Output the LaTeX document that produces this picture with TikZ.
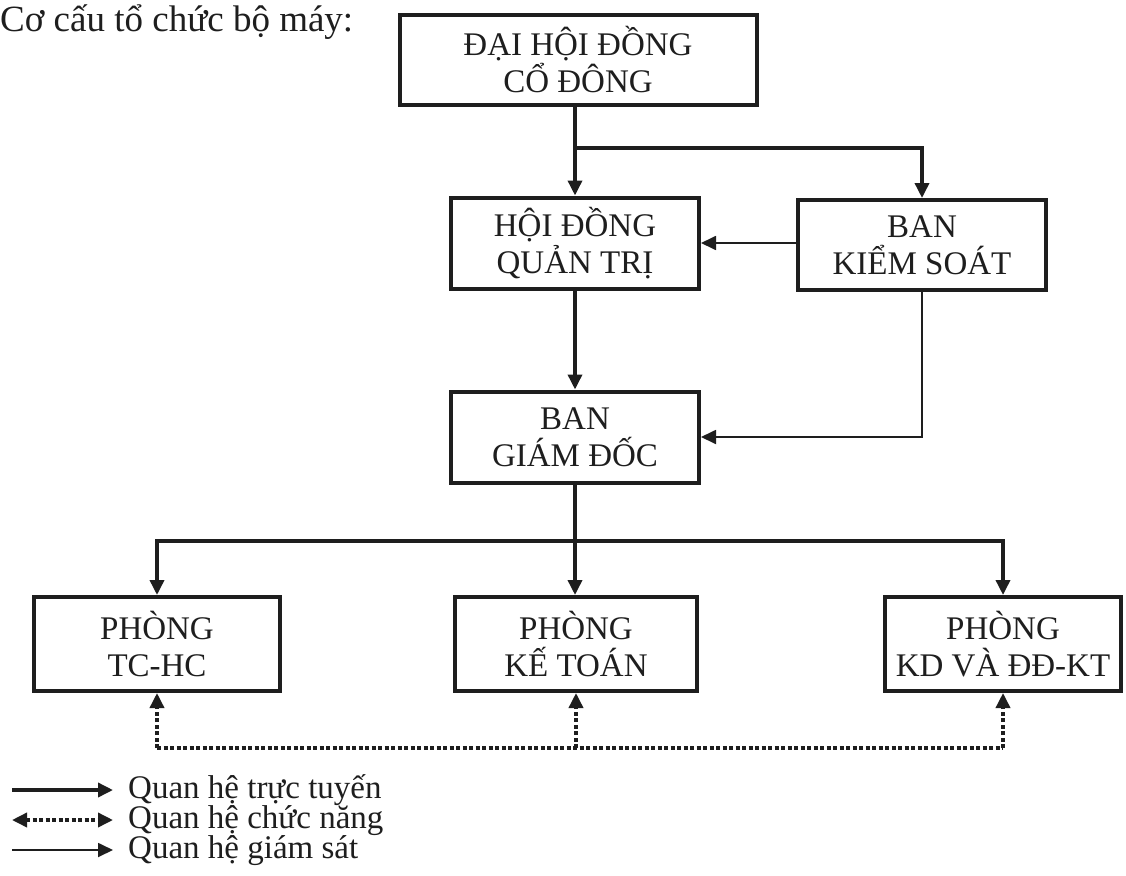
\documentclass[tikz,border=0pt]{standalone}
\usepackage{fontspec}
\setmainfont{Liberation Serif}
\usetikzlibrary{arrows.meta}
\definecolor{ink}{RGB}{30,30,30}
\newcommand{\boxfont}{\fontsize{33}{37}\selectfont}
\begin{document}
\begin{tikzpicture}[x=1pt,y=-1pt,
  box/.style={draw=ink, line width=4pt, align=center, font=\boxfont, text=ink, inner sep=0pt},
  strong/.style={draw=ink, line width=3.5pt, -{Triangle[length=15pt,width=14pt]}},
  weak/.style={draw=ink, line width=1.8pt, -{Triangle[length=15pt,width=14pt]}},
  func/.style={draw=ink, line width=3.5pt, dash pattern=on 4pt off 2.5pt},
  funcarrow/.style={func, -{Triangle[length=15pt,width=14pt]}},
  legtext/.style={anchor=base west, font=\fontsize{33}{36}\selectfont, text=ink, inner sep=0pt}
]
\fill[white] (0,0) rectangle (1126,875);
\useasboundingbox (0,0) rectangle (1126,875);

\node[anchor=base west, font=\fontsize{37}{40}\selectfont, text=ink, inner sep=0pt] (title) at (0,32) {Cơ cấu tổ chức bộ máy:};

\node[box, minimum width=357pt, minimum height=90pt] (dh) at (578,60) {ĐẠI HỘI ĐỒNG\\CỔ ĐÔNG};
\node[box, minimum width=248pt, minimum height=91pt] (hd) at (575,243) {HỘI ĐỒNG\\QUẢN TRỊ};
\node[box, minimum width=248pt, minimum height=90pt] (bks) at (922,245) {BAN\\KIỂM SOÁT};
\node[box, minimum width=248pt, minimum height=91pt] (bgd) at (575,437) {BAN\\GIÁM ĐỐC};
\node[box, minimum width=246pt, minimum height=94pt] (tc) at (157,644) {PHÒNG\\TC-HC};
\node[box, minimum width=242pt, minimum height=94pt] (kt) at (576,644) {PHÒNG\\KẾ TOÁN};
\node[box, minimum width=236pt, minimum height=94pt] (kd) at (1003,644) {PHÒNG\\KD VÀ ĐĐ-KT};

% direct lines
\coordinate (b1) at (575,148);
\draw[strong] (dh.south -| hd.north) -- (hd.north);
\draw[strong] (b1) -| (bks.north);
\draw[strong] (hd.south) -- (bgd.north);
\coordinate (b2) at (575,541);
\draw[strong] (bgd.south) -- (bgd.south |- kt.north);
\draw[strong] (b2) -| (tc.north);
\draw[strong] (b2) -| (kd.north);

% supervision
\draw[weak] (bks.west |- hd.east) -- (hd.east);
\draw[weak] (bks.south) |- (bgd.east);

% functional
\coordinate (dl) at (0,748);
\draw[func] (tc.south |- dl) -- (kd.south |- dl);
\draw[funcarrow] (tc.south |- dl) -- (tc.south);
\draw[funcarrow] (kt.south |- dl) -- (kt.south);
\draw[funcarrow] (kd.south |- dl) -- (kd.south);

% legend
\coordinate (l1a) at (12,790); \coordinate (l1b) at (113,790);
\coordinate (l2a) at (12,820); \coordinate (l2b) at (113,820);
\coordinate (l3a) at (12,850); \coordinate (l3b) at (113,850);
\draw[strong] (l1a) -- (l1b);
\draw[func, {Triangle[length=15pt,width=14pt]}-{Triangle[length=15pt,width=14pt]}] (l2a) -- (l2b);
\draw[weak] (l3a) -- (l3b);
\node[legtext] (t1) at (128,798) {Quan hệ trực tuyến};
\node[legtext] (t2) at (128,828) {Quan hệ chức năng};
\node[legtext] (t3) at (128,858) {Quan hệ giám sát};
\end{tikzpicture}
\end{document}
